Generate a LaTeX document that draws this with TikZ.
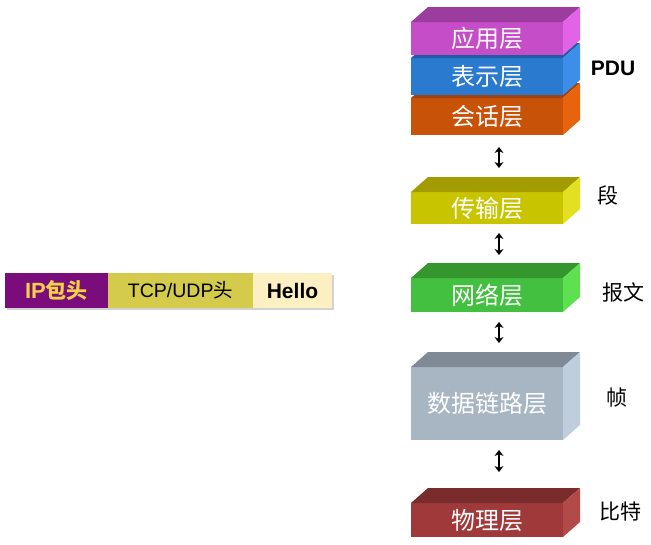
\documentclass[tikz,border=0pt]{standalone}
\usepackage{fontspec}
\newfontfamily\cjk{Noto Sans CJK SC}
\newfontfamily\arial{Liberation Sans}
\usepackage{tikz}
\usetikzlibrary{arrows.meta,positioning,shadows}

\definecolor{appF}{HTML}{C54DC8}\definecolor{appT}{HTML}{9C3C9E}\definecolor{appS}{HTML}{E164E6}
\definecolor{presF}{HTML}{2A7AD0}\definecolor{presT}{HTML}{1E5CA6}\definecolor{presS}{HTML}{3C8EE8}
\definecolor{sessF}{HTML}{C85208}\definecolor{sessT}{HTML}{A24310}\definecolor{sessS}{HTML}{E8640C}
\definecolor{transF}{HTML}{C8C400}\definecolor{transT}{HTML}{A29C00}\definecolor{transS}{HTML}{E2E020}
\definecolor{netF}{HTML}{44C040}\definecolor{netT}{HTML}{35962E}\definecolor{netS}{HTML}{5EE050}
\definecolor{dlF}{HTML}{A8B6C4}\definecolor{dlT}{HTML}{7F8A96}\definecolor{dlS}{HTML}{BFCEDC}
\definecolor{phyF}{HTML}{A03A3A}\definecolor{phyT}{HTML}{7A2C2C}\definecolor{phyS}{HTML}{B24A4A}
\definecolor{ipF}{HTML}{7A0C7C}\definecolor{ipT}{HTML}{F2D048}
\definecolor{tcpF}{HTML}{D4CA4C}
\definecolor{helloF}{HTML}{FCF0C2}

\begin{document}
\begin{tikzpicture}[x=1pt,y=-1pt,
  layer/.style={inner sep=0pt,outer sep=0pt,minimum width=152pt,text=white,
    font=\cjk\fontsize{24}{24}\selectfont},
  hdr/.style={inner sep=0pt,outer sep=0pt,minimum height=35pt,
    drop shadow={shadow xshift=2pt,shadow yshift=-2pt,fill=black!35}},
  tag/.style={font=\cjk\fontsize{21}{21}\selectfont},
  updown/.style={{Stealth[length=6pt,width=9pt]}-{Stealth[length=6pt,width=9pt]},line width=2.6pt}]
  \useasboundingbox[fill=white] (0,0) rectangle (651,544);

  % OSI layers, drawn bottom of each stack first
  \foreach \n/\y/\h/\t in {sess/116.5/37/会话层, pres/76.5/37/表示层, app/38.5/33/应用层,
      trans/208/32/传输层, net/295/34/网络层, dl/403.5/73/数据链路层, phy/520/34/物理层} {
    \node[layer,fill=\n F,minimum height=\h pt] (\n) at (487,\y) {\t};
    \fill[\n T] (\n.north west) -- ++(17,-15) -- ++(152,0) -- (\n.north east) -- cycle;
    \fill[\n S] (\n.north east) -- ++(17,-15) -- ++(0,\h) -- (\n.south east) -- cycle;
  }

  % arrows between layers
  \foreach \a/\b/\s/\e in {sess/trans/12/24, trans/net/9/23, net/dl/10/24, dl/phy/10/31}
    \draw[updown,shorten <=\s pt,shorten >=\e pt] ([xshift=12pt]\a.south) -- ([xshift=12pt]\b.north);

  % PDU names
  \node[font=\arial\bfseries\fontsize{21}{21}\selectfont] (pdu) at (613,68) {PDU};
  \node[tag] (seg) at (608,195) {段};
  \node[tag] (msg) at (623,292) {报文};
  \node[tag] (frame) at (617,398) {帧};
  \node[tag] (bits) at (620,512) {比特};

  % packet
  \node[hdr,fill=ipF,text=ipT,minimum width=103pt] (ip) at (56.5,290.5)
    {{\arial\bfseries\fontsize{22}{22}\selectfont IP}{\cjk\bfseries\fontsize{21}{21}\selectfont 包头}};
  \node[hdr,fill=tcpF,minimum width=145pt,right=0pt of ip] (tcp)
    {{\arial\fontsize{19.5}{19.5}\selectfont TCP/UDP}{\cjk\fontsize{19.5}{19.5}\selectfont 头}};
  \node[hdr,fill=helloF,minimum width=79pt,right=0pt of tcp] (hello)
    {\arial\bfseries\fontsize{21}{21}\selectfont Hello};
\end{tikzpicture}
\end{document}
